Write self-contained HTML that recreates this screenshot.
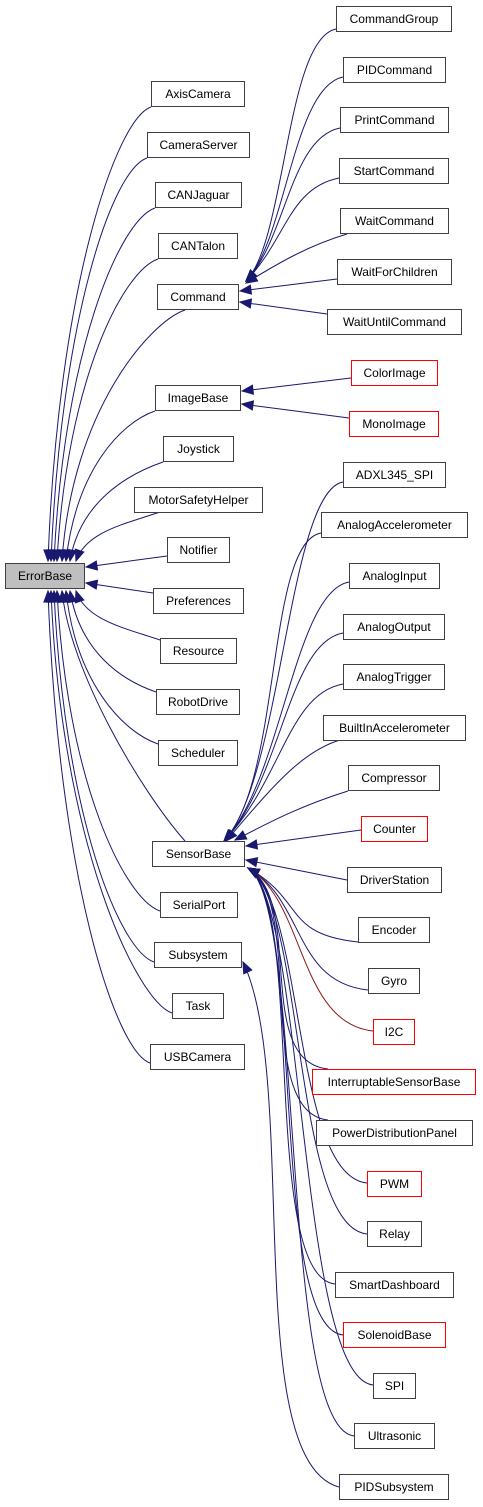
<!DOCTYPE html>
<html><head><meta charset="utf-8">
<style>
html,body{margin:0;padding:0;background:#fff;}
body{width:483px;height:1507px;position:relative;overflow:hidden;font-family:"Liberation Sans",sans-serif;}
.n{position:absolute;box-sizing:border-box;border:1px solid #404040;background:#fff;font-size:12px;line-height:24px;text-align:center;color:#000;white-space:nowrap;height:26px;}
.r{border-color:#ff0000;}
.g{background:#bfbfbf;}
svg{position:absolute;left:0;top:0;}
</style></head><body>
<svg id="s" width="483" height="1507"></svg>
<div class="n g" style="left:5px;top:563px;width:80px">ErrorBase</div>
<div class="n" style="left:151px;top:81px;width:94px">AxisCamera</div>
<div class="n" style="left:147px;top:132px;width:103px">CameraServer</div>
<div class="n" style="left:155px;top:182px;width:87px">CANJaguar</div>
<div class="n" style="left:158px;top:233px;width:80px">CANTalon</div>
<div class="n" style="left:157px;top:284px;width:82px">Command</div>
<div class="n" style="left:155px;top:385px;width:86px">ImageBase</div>
<div class="n" style="left:163px;top:436px;width:71px">Joystick</div>
<div class="n" style="left:134px;top:487px;width:129px">MotorSafetyHelper</div>
<div class="n" style="left:167px;top:537px;width:63px">Notifier</div>
<div class="n" style="left:153px;top:588px;width:91px">Preferences</div>
<div class="n" style="left:160px;top:638px;width:77px">Resource</div>
<div class="n" style="left:156px;top:689px;width:84px">RobotDrive</div>
<div class="n" style="left:158px;top:740px;width:80px">Scheduler</div>
<div class="n" style="left:152px;top:841px;width:93px">SensorBase</div>
<div class="n" style="left:160px;top:892px;width:78px">SerialPort</div>
<div class="n" style="left:154px;top:942px;width:88px">Subsystem</div>
<div class="n" style="left:172px;top:993px;width:52px">Task</div>
<div class="n" style="left:150px;top:1044px;width:95px">USBCamera</div>

<div class="n" style="left:336px;top:6px;width:116px">CommandGroup</div>
<div class="n" style="left:343px;top:57px;width:103px">PIDCommand</div>
<div class="n" style="left:340px;top:107px;width:109px">PrintCommand</div>
<div class="n" style="left:339px;top:158px;width:110px">StartCommand</div>
<div class="n" style="left:340px;top:208px;width:109px">WaitCommand</div>
<div class="n" style="left:337px;top:259px;width:115px">WaitForChildren</div>
<div class="n" style="left:327px;top:309px;width:135px">WaitUntilCommand</div>
<div class="n r" style="left:351px;top:360px;width:87px">ColorImage</div>
<div class="n r" style="left:349px;top:411px;width:90px">MonoImage</div>
<div class="n" style="left:343px;top:462px;width:103px">ADXL345_SPI</div>
<div class="n" style="left:321px;top:512px;width:147px">AnalogAccelerometer</div>
<div class="n" style="left:349px;top:563px;width:91px">AnalogInput</div>
<div class="n" style="left:343px;top:614px;width:102px">AnalogOutput</div>
<div class="n" style="left:343px;top:664px;width:102px">AnalogTrigger</div>
<div class="n" style="left:323px;top:715px;width:143px">BuiltInAccelerometer</div>
<div class="n" style="left:348px;top:765px;width:92px">Compressor</div>
<div class="n r" style="left:361px;top:816px;width:67px">Counter</div>
<div class="n" style="left:347px;top:867px;width:95px">DriverStation</div>
<div class="n" style="left:358px;top:917px;width:72px">Encoder</div>
<div class="n" style="left:368px;top:968px;width:52px">Gyro</div>
<div class="n r" style="left:373px;top:1019px;width:42px">I2C</div>
<div class="n r" style="left:312px;top:1069px;width:164px">InterruptableSensorBase</div>
<div class="n" style="left:316px;top:1120px;width:157px">PowerDistributionPanel</div>
<div class="n r" style="left:367px;top:1171px;width:55px">PWM</div>
<div class="n" style="left:367px;top:1221px;width:55px">Relay</div>
<div class="n" style="left:335px;top:1272px;width:119px">SmartDashboard</div>
<div class="n r" style="left:343px;top:1322px;width:103px">SolenoidBase</div>
<div class="n" style="left:373px;top:1373px;width:43px">SPI</div>
<div class="n" style="left:354px;top:1423px;width:81px">Ultrasonic</div>
<div class="n" style="left:339px;top:1474px;width:110px">PIDSubsystem</div>
<script>
var s=document.getElementById('s'),out='';
function e(x0,y0,x1,y1,x2,y2,x3,y3,c){
 c=c||'#191970';
 out+='<path d="M'+x0+','+y0+' C'+x1+','+y1+' '+x2+','+y2+' '+x3+','+y3+'" fill="none" stroke="'+c+'" stroke-width="1"/>';
 var dx=x3-x2,dy=y3-y2,l=Math.sqrt(dx*dx+dy*dy)||1;dx/=l;dy/=l;
 var bx=x3-dx*11,by=y3-dy*11,px=-dy*4.5,py=dx*4.5;
 out+='<polygon points="'+x3+','+y3+' '+(bx+px)+','+(by+py)+' '+(bx-px)+','+(by-py)+'" fill="#191970" stroke="#191970"/>';
}
function line(x0,y0,x3,y3,c){e(x0,y0,(x0*2+x3)/3,(y0*2+y3)/3,(x0+x3*2)/3,(y0+y3*2)/3,x3,y3,c);}
var up=[[151,107,48],[147,158,51],[155,208,54],[158,259,57],[185,310,62],[155,411,66],[163,462,70],[160,512,76]];
up.forEach(function(a){var L=a[0],cy=a[1],ex=a[2],ey=561;
 e(L,cy,L-35,cy+12,ex+10,ey-(ey-cy)*0.6,ex,ey);});
line(167,556,86,567);line(153,593,86,583);
var dn=[[160,640,76],[156,692,70],[158,744,66],[185,841,62],[160,911,57],[154,962,54],[172,1013,51],[150,1063,48]];
dn.forEach(function(a){var L=a[0],cy=a[1],ex=a[2],ey=591;
 if(L==185){e(L,cy,140,790,ex+8,ey+80,ex,ey);return;}
 e(L,cy,L-35,cy-12,ex+10,ey+(cy-ey)*0.6,ex,ey);});
[[336,29],[343,77],[340,128],[339,178]].forEach(function(a){
 e(a[0],a[1],a[0]-50,a[1]+10,286,240,246,281);});
e(347,234,310,245,280,262,246,283);
line(337,279,240,291);line(327,314,240,302);
line(351,378,242,391);line(349,418,242,404);
[[343,482],[321,533],[349,582],[343,633],[343,684]].forEach(function(a){
 e(a[0],a[1],a[0]-55,a[1]+10,282,780,224,841);});
e(340,740,300,752,270,790,226,841);
e(348,791,300,806,270,822,235,840);
line(361,830,246,846);line(347,880,246,860);
var low=[[358,942,'#191970'],[368,990,'#191970'],[373,1031,'#8b1a1a'],[328,1069,'#191970'],[328,1120,'#191970'],[367,1183,'#191970'],[367,1234,'#191970'],[335,1284,'#191970'],[343,1335,'#191970'],[373,1385,'#191970'],[354,1436,'#191970']];
low.forEach(function(a){var L=a[0],cy=a[1];
 e(L,cy,L-75,cy-8,305,900,248,868,a[2]);});
e(339,1487,240,1460,300,1080,243,962);
s.innerHTML=out;
</script>
</body></html>
